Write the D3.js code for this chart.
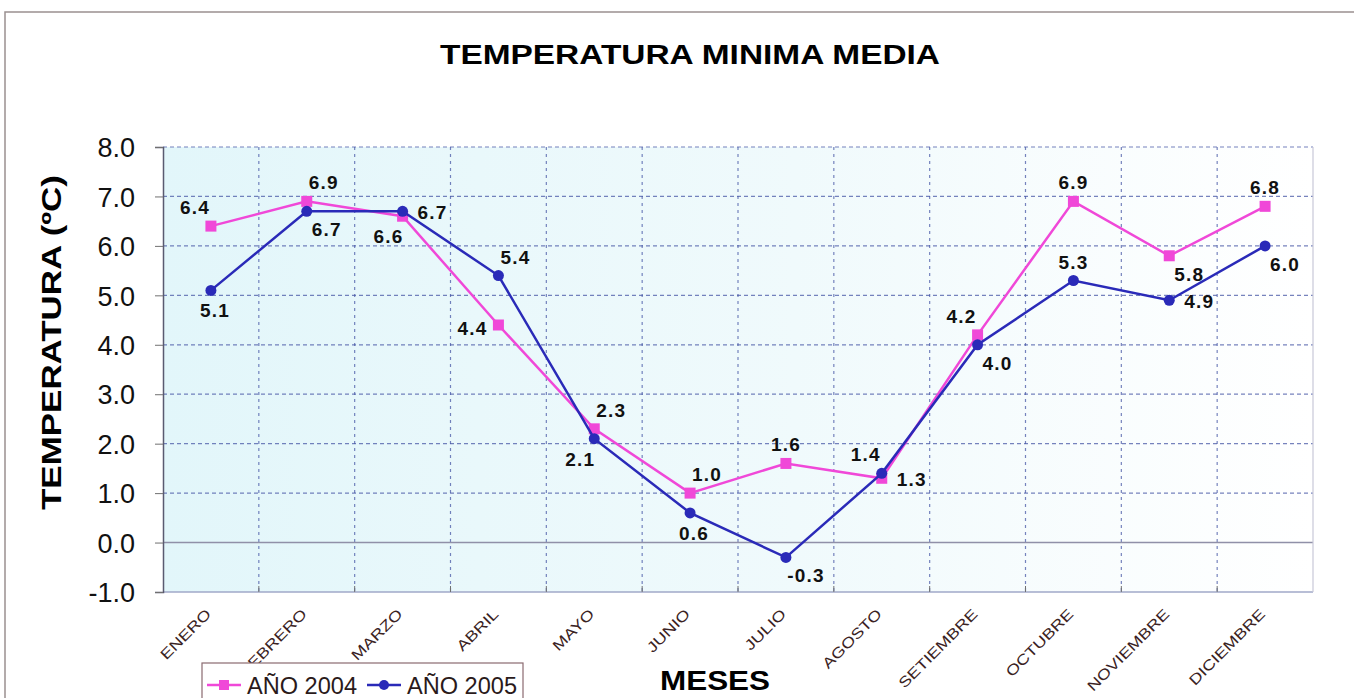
<!DOCTYPE html>
<html>
<head>
<meta charset="utf-8">
<style>
  body { margin: 0; background: #fff; font-family: Arial, "Liberation Sans", sans-serif; }
  svg text { font-family: Arial, "Liberation Sans", sans-serif; }
</style>
<script src="https://cdn.jsdelivr.net/npm/d3@7"></script>
</head>
<body>
<svg id="chart" width="1354" height="698"></svg>
<script>
// data
let meses = ["ENERO","FEBRERO","MARZO","ABRIL","MAYO","JUNIO","JULIO","AGOSTO","SETIEMBRE","OCTUBRE","NOVIEMBRE","DICIEMBRE"]
let anio2004 = [6.4, 6.9, 6.6, 4.4, 2.3, 1.0, 1.6, 1.3, 4.2, 6.9, 5.8, 6.8]
let anio2005 = [5.1, 6.7, 6.7, 5.4, 2.1, 0.6, -0.3, 1.4, 4.0, 5.3, 4.9, 6.0]
let yTicks = [-1, 0, 1, 2, 3, 4, 5, 6, 7, 8]
// where each value label sits next to its point
let pos2004 = ["ul","ur","dl","l","ur","ur","u","r","ul","u","dr","u"]
let pos2005 = ["d","dr","r","ur","dl","d","dr","ul","dr","u","r","dr"]

let fmt = d => d.toFixed(1)

let svg = d3.select("#chart")
let margin = {left: 163, right: 1313, top: 147, bottom: 592}

let x = d3.scaleBand().domain(meses).range([margin.left, margin.right])
let y = d3.scaleLinear().domain([-1, 8]).range([margin.bottom, margin.top])

// outer frame
svg.append("rect").attr("x", 5).attr("y", 12).attr("width", 1360).attr("height", 700)
  .attr("fill", "none").attr("stroke", "#9a9090").attr("stroke-width", 1.5)

// plot background
let grad = svg.append("defs").append("linearGradient").attr("id", "bg")
  .attr("x1", "0%").attr("x2", "100%").attr("y1", "0%").attr("y2", "0%")
grad.append("stop").attr("offset", "0%").attr("stop-color", "#e2f6fa")
grad.append("stop").attr("offset", "55%").attr("stop-color", "#f0fafc")
grad.append("stop").attr("offset", "100%").attr("stop-color", "#ffffff")
svg.append("rect").attr("x", margin.left).attr("y", margin.top)
  .attr("width", margin.right - margin.left).attr("height", margin.bottom - margin.top)
  .attr("fill", "url(#bg)")

// grid
svg.append("g").selectAll("line").data(yTicks.filter(d => d != 0 && d != -1))
  .enter().append("line")
  .attr("x1", margin.left).attr("x2", margin.right)
  .attr("y1", d => y(d)).attr("y2", d => y(d))
  .attr("stroke", "#4a5aa8").attr("stroke-width", 1.2).attr("stroke-dasharray", "4,3").attr("opacity", 0.75)

svg.append("g").selectAll("line").data(meses.slice(1))
  .enter().append("line")
  .attr("x1", d => x(d)).attr("x2", d => x(d))
  .attr("y1", margin.top).attr("y2", margin.bottom)
  .attr("stroke", "#4a5aa8").attr("stroke-width", 1.2).attr("stroke-dasharray", "3,4").attr("opacity", 0.75)

svg.append("line").attr("x1", margin.left).attr("x2", margin.right)
  .attr("y1", y(0)).attr("y2", y(0)).attr("stroke", "#9090a8").attr("stroke-width", 1.5)
svg.append("line").attr("x1", margin.left).attr("x2", margin.right)
  .attr("y1", y(-1)).attr("y2", y(-1)).attr("stroke", "#a0a8c8").attr("stroke-width", 1.5)
svg.append("line").attr("x1", margin.right).attr("x2", margin.right)
  .attr("y1", margin.top).attr("y2", margin.bottom).attr("stroke", "#c8c8d8").attr("stroke-width", 1.2)

// y axis
let yAxis = d3.axisLeft(y).tickValues(yTicks).tickFormat(fmt).tickSize(8).tickPadding(20)
let gy = svg.append("g").attr("transform", `translate(${margin.left},0)`).call(yAxis)
gy.select(".domain").attr("stroke", "#5a5a70").attr("stroke-width", 1.5)
gy.selectAll(".tick line").attr("stroke", "#707070")
gy.selectAll("text").attr("font-size", 27).attr("fill", "#111").attr("dy", "0.36em")

// x axis
let gx = svg.append("g").attr("transform", `translate(0,${margin.bottom})`)
gx.selectAll("line").data(meses.slice(1)).enter().append("line")
  .attr("x1", d => x(d)).attr("x2", d => x(d)).attr("y1", -6).attr("y2", 0)
  .attr("stroke", "#707070")
gx.selectAll("text").data(meses).enter().append("text")
  .attr("transform", d => `translate(${x(d) + x.bandwidth() / 2 + 1},${23}) rotate(-45) scale(1.25,1)`)
  .attr("text-anchor", "end").attr("font-size", 14.5).attr("fill", "#3a2222")
  .text(d => d)

// titles
svg.append("text").attr("x", 440).attr("y", 64)
  .attr("font-size", 27).attr("font-weight", "bold").attr("fill", "#000")
  .attr("textLength", 500).attr("lengthAdjust", "spacingAndGlyphs")
  .text("TEMPERATURA MINIMA MEDIA")
svg.append("text").attr("transform", "translate(61,510) rotate(-90)")
  .attr("font-size", 28).attr("font-weight", "bold").attr("fill", "#000")
  .attr("textLength", 335).attr("lengthAdjust", "spacingAndGlyphs")
  .text("TEMPERATURA (ºC)")
svg.append("text").attr("x", 660).attr("y", 690)
  .attr("font-size", 27).attr("font-weight", "bold").attr("fill", "#000")
  .attr("textLength", 110).attr("lengthAdjust", "spacingAndGlyphs")
  .text("MESES")

// series
let cx = (d, i) => x(meses[i]) + x.bandwidth() / 2
let line = d3.line().x(cx).y(d => y(d))

function drawSeries(values, color, marker, places) {
  svg.append("path").datum(values).attr("d", line)
    .attr("fill", "none").attr("stroke", color).attr("stroke-width", 2.5)
  let g = svg.append("g")
  if (marker == "square") {
    g.selectAll("rect").data(values).enter().append("rect")
      .attr("x", (d, i) => cx(d, i) - 5.5).attr("y", d => y(d) - 5.5)
      .attr("width", 11).attr("height", 11).attr("fill", color)
  } else {
    g.selectAll("circle").data(values).enter().append("circle")
      .attr("cx", cx).attr("cy", d => y(d)).attr("r", 5.5).attr("fill", color)
  }
  let off = {u: [0, -12], d: [4, 27], l: [-26, 10], r: [30, 8], ul: [-16, -12], ur: [17, -12], dl: [-14, 27], dr: [20, 25]}
  svg.append("g").selectAll("text").data(values).enter().append("text")
    .attr("x", (d, i) => cx(d, i) + off[places[i]][0])
    .attr("y", (d, i) => y(d) + off[places[i]][1])
    .attr("text-anchor", "middle").attr("font-size", 19).attr("letter-spacing", 1.2)
    .attr("font-weight", "bold").attr("fill", "#111")
    .text(fmt)
}

drawSeries(anio2004, "#f048d8", "square", pos2004)
drawSeries(anio2005, "#2a2ab8", "circle", pos2005)

// legend
let lg = svg.append("g").attr("transform", "translate(202,663)")
lg.append("rect").attr("width", 321).attr("height", 40).attr("fill", "#fff")
  .attr("stroke", "#8a6a70").attr("stroke-width", 1.2)
let items = [{name: "AÑO 2004", color: "#f048d8", marker: "square"}, {name: "AÑO 2005", color: "#2a2ab8", marker: "circle"}]
items.forEach((it, i) => {
  let ox = 5 + i * 160
  lg.append("line").attr("x1", ox).attr("x2", ox + 34).attr("y1", 22).attr("y2", 22)
    .attr("stroke", it.color).attr("stroke-width", 2.5)
  if (it.marker == "square") {
    lg.append("rect").attr("x", ox + 12).attr("y", 17).attr("width", 10).attr("height", 10).attr("fill", it.color)
  } else {
    lg.append("circle").attr("cx", ox + 17).attr("cy", 22).attr("r", 5).attr("fill", it.color)
  }
  lg.append("text").attr("x", ox + 40).attr("y", 31).attr("font-size", 23).attr("fill", "#2a1a1a")
    .attr("textLength", 110).attr("lengthAdjust", "spacingAndGlyphs").text(it.name)
})
</script>
</body>
</html>
